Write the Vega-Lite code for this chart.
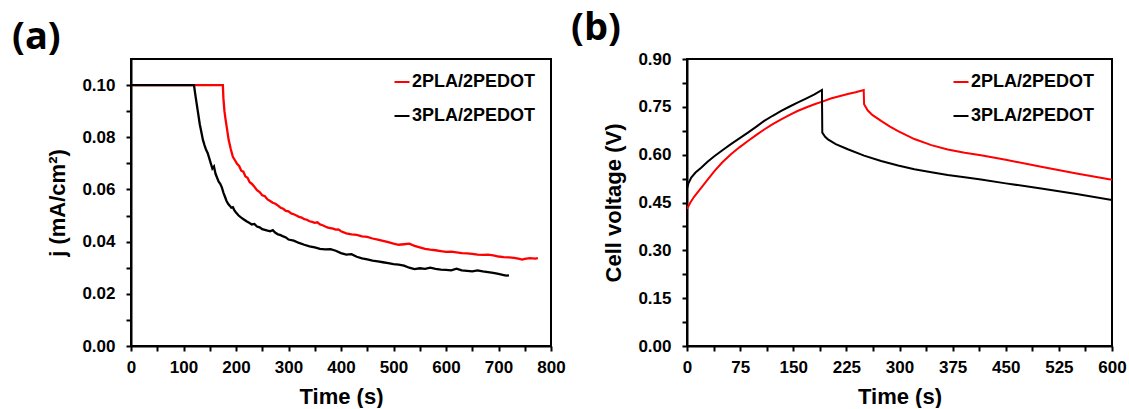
{
  "$schema": "https://vega.github.io/schema/vega-lite/v6.json",
  "background": "white",
  "padding": {"left": 11, "top": 9, "right": 0, "bottom": 0},
  "spacing": 3,
  "config": {
    "view": {"stroke": "black", "strokeWidth": 2},
    "axis": {
      "grid": false, "domainColor": "black", "domainWidth": 2, "tickColor": "black", "tickWidth": 2, "tickSize": 5,
      "labelFont": "Liberation Sans", "labelFontWeight": "bold", "labelFontSize": 17, "labelColor": "black", "labelPadding": 11,
      "titleFont": "Liberation Sans", "titleFontWeight": "bold", "titleFontSize": 22, "titleColor": "black", "titlePadding": 11,
      "labelFlush": false, "labelOverlap": false
    },
    "axisX": {"labelPadding": 8, "titlePadding": 11},
    "axisY": {"titlePadding": 12},
    "legend": {
      "orient": "none", "title": null, "symbolType": "stroke", "symbolSize": 225, "symbolStrokeWidth": 2,
      "labelFont": "Liberation Sans", "labelFontWeight": "bold", "labelFontSize": 18, "labelColor": "black",
      "labelOffset": 1, "rowPadding": 16, "padding": 0, "labelLimit": 300
    },
    "title": {"font": "Open Sans", "fontSize": 38, "fontWeight": "bold", "anchor": "start", "frame": "group", "color": "black", "offset": 2}
  },
  "resolve": {"scale": {"color": "independent"}, "legend": {"color": "independent"}},
  "hconcat": [
    {
      "width": 420, "height": 287,
      "title": {"text": "(a)", "dx": -119},
      "data": {"values": [
        {"s": "2PLA/2PEDOT", "t": 0, "j": 0.1}, {"s": "2PLA/2PEDOT", "t": 175, "j": 0.1},
        {"s": "2PLA/2PEDOT", "t": 176, "j": 0.095}, {"s": "2PLA/2PEDOT", "t": 178, "j": 0.090},
        {"s": "2PLA/2PEDOT", "t": 180, "j": 0.087}, {"s": "2PLA/2PEDOT", "t": 183, "j": 0.083},
        {"s": "2PLA/2PEDOT", "t": 186, "j": 0.079}, {"s": "2PLA/2PEDOT", "t": 190, "j": 0.0755},
        {"s": "2PLA/2PEDOT", "t": 194, "j": 0.0725}, {"s": "2PLA/2PEDOT", "t": 198, "j": 0.0712},
        {"s": "2PLA/2PEDOT", "t": 202, "j": 0.0698}, {"s": "2PLA/2PEDOT", "t": 206, "j": 0.0690},
        {"s": "2PLA/2PEDOT", "t": 210, "j": 0.0672}, {"s": "2PLA/2PEDOT", "t": 214, "j": 0.0668},
        {"s": "2PLA/2PEDOT", "t": 218, "j": 0.0650}, {"s": "2PLA/2PEDOT", "t": 222, "j": 0.0645},
        {"s": "2PLA/2PEDOT", "t": 226, "j": 0.0628}, {"s": "2PLA/2PEDOT", "t": 230, "j": 0.0622},
        {"s": "2PLA/2PEDOT", "t": 235, "j": 0.0610}, {"s": "2PLA/2PEDOT", "t": 240, "j": 0.0597},
        {"s": "2PLA/2PEDOT", "t": 245, "j": 0.0590}, {"s": "2PLA/2PEDOT", "t": 250, "j": 0.0578},
        {"s": "2PLA/2PEDOT", "t": 255, "j": 0.0574}, {"s": "2PLA/2PEDOT", "t": 260, "j": 0.0562},
        {"s": "2PLA/2PEDOT", "t": 265, "j": 0.0556}, {"s": "2PLA/2PEDOT", "t": 270, "j": 0.0549},
        {"s": "2PLA/2PEDOT", "t": 275, "j": 0.0545}, {"s": "2PLA/2PEDOT", "t": 280, "j": 0.0538},
        {"s": "2PLA/2PEDOT", "t": 285, "j": 0.0530}, {"s": "2PLA/2PEDOT", "t": 290, "j": 0.0526},
        {"s": "2PLA/2PEDOT", "t": 295, "j": 0.0518}, {"s": "2PLA/2PEDOT", "t": 300, "j": 0.0516},
        {"s": "2PLA/2PEDOT", "t": 305, "j": 0.0508}, {"s": "2PLA/2PEDOT", "t": 310, "j": 0.0505},
        {"s": "2PLA/2PEDOT", "t": 315, "j": 0.0500}, {"s": "2PLA/2PEDOT", "t": 320, "j": 0.0495},
        {"s": "2PLA/2PEDOT", "t": 325, "j": 0.0492}, {"s": "2PLA/2PEDOT", "t": 330, "j": 0.0486},
        {"s": "2PLA/2PEDOT", "t": 335, "j": 0.0484}, {"s": "2PLA/2PEDOT", "t": 340, "j": 0.0478},
        {"s": "2PLA/2PEDOT", "t": 345, "j": 0.0476}, {"s": "2PLA/2PEDOT", "t": 350, "j": 0.0472},
        {"s": "2PLA/2PEDOT", "t": 355, "j": 0.0474}, {"s": "2PLA/2PEDOT", "t": 360, "j": 0.0466},
        {"s": "2PLA/2PEDOT", "t": 365, "j": 0.0463}, {"s": "2PLA/2PEDOT", "t": 370, "j": 0.0458},
        {"s": "2PLA/2PEDOT", "t": 375, "j": 0.0454}, {"s": "2PLA/2PEDOT", "t": 380, "j": 0.0452},
        {"s": "2PLA/2PEDOT", "t": 385, "j": 0.0450}, {"s": "2PLA/2PEDOT", "t": 390, "j": 0.0446},
        {"s": "2PLA/2PEDOT", "t": 395, "j": 0.0447}, {"s": "2PLA/2PEDOT", "t": 400, "j": 0.0440},
        {"s": "2PLA/2PEDOT", "t": 410, "j": 0.0432}, {"s": "2PLA/2PEDOT", "t": 420, "j": 0.0428},
        {"s": "2PLA/2PEDOT", "t": 430, "j": 0.0426}, {"s": "2PLA/2PEDOT", "t": 440, "j": 0.0420},
        {"s": "2PLA/2PEDOT", "t": 450, "j": 0.0418}, {"s": "2PLA/2PEDOT", "t": 460, "j": 0.0412},
        {"s": "2PLA/2PEDOT", "t": 470, "j": 0.0408}, {"s": "2PLA/2PEDOT", "t": 480, "j": 0.0403},
        {"s": "2PLA/2PEDOT", "t": 490, "j": 0.0398}, {"s": "2PLA/2PEDOT", "t": 500, "j": 0.0392},
        {"s": "2PLA/2PEDOT", "t": 510, "j": 0.0388}, {"s": "2PLA/2PEDOT", "t": 520, "j": 0.0390},
        {"s": "2PLA/2PEDOT", "t": 530, "j": 0.0392}, {"s": "2PLA/2PEDOT", "t": 540, "j": 0.0384},
        {"s": "2PLA/2PEDOT", "t": 550, "j": 0.0378}, {"s": "2PLA/2PEDOT", "t": 560, "j": 0.0372},
        {"s": "2PLA/2PEDOT", "t": 570, "j": 0.0369}, {"s": "2PLA/2PEDOT", "t": 580, "j": 0.0367},
        {"s": "2PLA/2PEDOT", "t": 590, "j": 0.0364}, {"s": "2PLA/2PEDOT", "t": 600, "j": 0.0361},
        {"s": "2PLA/2PEDOT", "t": 610, "j": 0.0362}, {"s": "2PLA/2PEDOT", "t": 620, "j": 0.0359},
        {"s": "2PLA/2PEDOT", "t": 630, "j": 0.0356}, {"s": "2PLA/2PEDOT", "t": 640, "j": 0.0355},
        {"s": "2PLA/2PEDOT", "t": 650, "j": 0.0353}, {"s": "2PLA/2PEDOT", "t": 660, "j": 0.0350},
        {"s": "2PLA/2PEDOT", "t": 670, "j": 0.0349}, {"s": "2PLA/2PEDOT", "t": 680, "j": 0.0350},
        {"s": "2PLA/2PEDOT", "t": 690, "j": 0.0347}, {"s": "2PLA/2PEDOT", "t": 700, "j": 0.0343},
        {"s": "2PLA/2PEDOT", "t": 710, "j": 0.0341}, {"s": "2PLA/2PEDOT", "t": 720, "j": 0.0340},
        {"s": "2PLA/2PEDOT", "t": 730, "j": 0.0338}, {"s": "2PLA/2PEDOT", "t": 740, "j": 0.0334},
        {"s": "2PLA/2PEDOT", "t": 745, "j": 0.0331}, {"s": "2PLA/2PEDOT", "t": 750, "j": 0.0334},
        {"s": "2PLA/2PEDOT", "t": 760, "j": 0.0337}, {"s": "2PLA/2PEDOT", "t": 770, "j": 0.0335},
        {"s": "2PLA/2PEDOT", "t": 775, "j": 0.0337},
        {"s": "3PLA/2PEDOT", "t": 0, "j": 0.1}, {"s": "3PLA/2PEDOT", "t": 120, "j": 0.1},
        {"s": "3PLA/2PEDOT", "t": 122, "j": 0.097}, {"s": "3PLA/2PEDOT", "t": 125, "j": 0.093},
        {"s": "3PLA/2PEDOT", "t": 128, "j": 0.089}, {"s": "3PLA/2PEDOT", "t": 131, "j": 0.085},
        {"s": "3PLA/2PEDOT", "t": 134, "j": 0.082}, {"s": "3PLA/2PEDOT", "t": 137, "j": 0.079},
        {"s": "3PLA/2PEDOT", "t": 140, "j": 0.0770}, {"s": "3PLA/2PEDOT", "t": 143, "j": 0.0752},
        {"s": "3PLA/2PEDOT", "t": 146, "j": 0.0740}, {"s": "3PLA/2PEDOT", "t": 149, "j": 0.0720},
        {"s": "3PLA/2PEDOT", "t": 152, "j": 0.0700}, {"s": "3PLA/2PEDOT", "t": 155, "j": 0.0680},
        {"s": "3PLA/2PEDOT", "t": 158, "j": 0.0688}, {"s": "3PLA/2PEDOT", "t": 161, "j": 0.0660},
        {"s": "3PLA/2PEDOT", "t": 164, "j": 0.0645}, {"s": "3PLA/2PEDOT", "t": 167, "j": 0.0630},
        {"s": "3PLA/2PEDOT", "t": 170, "j": 0.0622}, {"s": "3PLA/2PEDOT", "t": 173, "j": 0.0608},
        {"s": "3PLA/2PEDOT", "t": 176, "j": 0.0588}, {"s": "3PLA/2PEDOT", "t": 179, "j": 0.0572},
        {"s": "3PLA/2PEDOT", "t": 182, "j": 0.0556}, {"s": "3PLA/2PEDOT", "t": 185, "j": 0.0545},
        {"s": "3PLA/2PEDOT", "t": 188, "j": 0.0538}, {"s": "3PLA/2PEDOT", "t": 191, "j": 0.0530},
        {"s": "3PLA/2PEDOT", "t": 194, "j": 0.0532}, {"s": "3PLA/2PEDOT", "t": 197, "j": 0.0520},
        {"s": "3PLA/2PEDOT", "t": 200, "j": 0.0512}, {"s": "3PLA/2PEDOT", "t": 205, "j": 0.0500},
        {"s": "3PLA/2PEDOT", "t": 210, "j": 0.0492}, {"s": "3PLA/2PEDOT", "t": 215, "j": 0.0485},
        {"s": "3PLA/2PEDOT", "t": 220, "j": 0.0478}, {"s": "3PLA/2PEDOT", "t": 225, "j": 0.0472},
        {"s": "3PLA/2PEDOT", "t": 230, "j": 0.0466}, {"s": "3PLA/2PEDOT", "t": 235, "j": 0.0468},
        {"s": "3PLA/2PEDOT", "t": 240, "j": 0.0458}, {"s": "3PLA/2PEDOT", "t": 245, "j": 0.0455},
        {"s": "3PLA/2PEDOT", "t": 250, "j": 0.0448}, {"s": "3PLA/2PEDOT", "t": 255, "j": 0.0445},
        {"s": "3PLA/2PEDOT", "t": 260, "j": 0.0442}, {"s": "3PLA/2PEDOT", "t": 265, "j": 0.0440},
        {"s": "3PLA/2PEDOT", "t": 270, "j": 0.0444}, {"s": "3PLA/2PEDOT", "t": 275, "j": 0.0434},
        {"s": "3PLA/2PEDOT", "t": 280, "j": 0.0428}, {"s": "3PLA/2PEDOT", "t": 285, "j": 0.0425},
        {"s": "3PLA/2PEDOT", "t": 290, "j": 0.0420}, {"s": "3PLA/2PEDOT", "t": 295, "j": 0.0416},
        {"s": "3PLA/2PEDOT", "t": 300, "j": 0.0408}, {"s": "3PLA/2PEDOT", "t": 310, "j": 0.0404},
        {"s": "3PLA/2PEDOT", "t": 320, "j": 0.0395}, {"s": "3PLA/2PEDOT", "t": 330, "j": 0.0388},
        {"s": "3PLA/2PEDOT", "t": 340, "j": 0.0382}, {"s": "3PLA/2PEDOT", "t": 350, "j": 0.0378},
        {"s": "3PLA/2PEDOT", "t": 360, "j": 0.0372}, {"s": "3PLA/2PEDOT", "t": 370, "j": 0.0370},
        {"s": "3PLA/2PEDOT", "t": 380, "j": 0.0371}, {"s": "3PLA/2PEDOT", "t": 390, "j": 0.0365},
        {"s": "3PLA/2PEDOT", "t": 400, "j": 0.0356}, {"s": "3PLA/2PEDOT", "t": 410, "j": 0.0350},
        {"s": "3PLA/2PEDOT", "t": 420, "j": 0.0352}, {"s": "3PLA/2PEDOT", "t": 430, "j": 0.0342},
        {"s": "3PLA/2PEDOT", "t": 440, "j": 0.0336}, {"s": "3PLA/2PEDOT", "t": 450, "j": 0.0332},
        {"s": "3PLA/2PEDOT", "t": 460, "j": 0.0327}, {"s": "3PLA/2PEDOT", "t": 470, "j": 0.0324},
        {"s": "3PLA/2PEDOT", "t": 480, "j": 0.0321}, {"s": "3PLA/2PEDOT", "t": 490, "j": 0.0318},
        {"s": "3PLA/2PEDOT", "t": 500, "j": 0.0314}, {"s": "3PLA/2PEDOT", "t": 510, "j": 0.0312},
        {"s": "3PLA/2PEDOT", "t": 520, "j": 0.0308}, {"s": "3PLA/2PEDOT", "t": 530, "j": 0.0300},
        {"s": "3PLA/2PEDOT", "t": 540, "j": 0.0295}, {"s": "3PLA/2PEDOT", "t": 550, "j": 0.0298},
        {"s": "3PLA/2PEDOT", "t": 560, "j": 0.0296}, {"s": "3PLA/2PEDOT", "t": 570, "j": 0.0300},
        {"s": "3PLA/2PEDOT", "t": 580, "j": 0.0296}, {"s": "3PLA/2PEDOT", "t": 590, "j": 0.0293},
        {"s": "3PLA/2PEDOT", "t": 600, "j": 0.0292}, {"s": "3PLA/2PEDOT", "t": 610, "j": 0.0290},
        {"s": "3PLA/2PEDOT", "t": 620, "j": 0.0296}, {"s": "3PLA/2PEDOT", "t": 630, "j": 0.0290},
        {"s": "3PLA/2PEDOT", "t": 640, "j": 0.0288}, {"s": "3PLA/2PEDOT", "t": 650, "j": 0.0286},
        {"s": "3PLA/2PEDOT", "t": 660, "j": 0.0290}, {"s": "3PLA/2PEDOT", "t": 670, "j": 0.0286},
        {"s": "3PLA/2PEDOT", "t": 680, "j": 0.0283}, {"s": "3PLA/2PEDOT", "t": 690, "j": 0.0280},
        {"s": "3PLA/2PEDOT", "t": 700, "j": 0.0276}, {"s": "3PLA/2PEDOT", "t": 710, "j": 0.0272},
        {"s": "3PLA/2PEDOT", "t": 715, "j": 0.0270}, {"s": "3PLA/2PEDOT", "t": 720, "j": 0.0271}
      ]},
      "mark": {"type": "line", "strokeWidth": 2.3, "clip": true},
      "encoding": {
        "x": {"field": "t", "type": "quantitative", "scale": {"domain": [0, 800], "nice": false, "zero": false},
              "axis": {"title": "Time (s)", "values": [0,50,100,150,200,250,300,350,400,450,500,550,600,650,700,750,800],
                       "labelExpr": "datum.value % 100 == 0 ? datum.label : ''"}},
        "y": {"field": "j", "type": "quantitative", "scale": {"domain": [0, 0.11], "nice": false},
              "axis": {"title": "j (mA/cm²)", "values": [0,0.01,0.02,0.03,0.04,0.05,0.06,0.07,0.08,0.09,0.1],
                       "labelExpr": "round(datum.value*100) % 2 == 0 ? format(datum.value, '.2f') : ''"}},
        "color": {"field": "s", "type": "nominal",
                  "scale": {"domain": ["2PLA/2PEDOT", "3PLA/2PEDOT"], "range": ["#ff0000", "#000000"]},
                  "legend": {"legendX": 262, "legendY": 14}}
      }
    },
    {
      "width": 425, "height": 287,
      "title": {"text": "(b)", "dx": -116},
      "data": {"values": [
        {"s": "2PLA/2PEDOT", "t": 0, "v": 0.430}, {"s": "2PLA/2PEDOT", "t": 5, "v": 0.451},
        {"s": "2PLA/2PEDOT", "t": 10, "v": 0.468}, {"s": "2PLA/2PEDOT", "t": 20, "v": 0.496},
        {"s": "2PLA/2PEDOT", "t": 30, "v": 0.524}, {"s": "2PLA/2PEDOT", "t": 39, "v": 0.549},
        {"s": "2PLA/2PEDOT", "t": 50, "v": 0.576}, {"s": "2PLA/2PEDOT", "t": 62, "v": 0.601},
        {"s": "2PLA/2PEDOT", "t": 74, "v": 0.623}, {"s": "2PLA/2PEDOT", "t": 86, "v": 0.643},
        {"s": "2PLA/2PEDOT", "t": 98, "v": 0.662}, {"s": "2PLA/2PEDOT", "t": 109, "v": 0.679},
        {"s": "2PLA/2PEDOT", "t": 121, "v": 0.696}, {"s": "2PLA/2PEDOT", "t": 133, "v": 0.711},
        {"s": "2PLA/2PEDOT", "t": 145, "v": 0.725}, {"s": "2PLA/2PEDOT", "t": 156, "v": 0.737},
        {"s": "2PLA/2PEDOT", "t": 168, "v": 0.748}, {"s": "2PLA/2PEDOT", "t": 180, "v": 0.758},
        {"s": "2PLA/2PEDOT", "t": 192, "v": 0.767}, {"s": "2PLA/2PEDOT", "t": 203, "v": 0.776},
        {"s": "2PLA/2PEDOT", "t": 215, "v": 0.783}, {"s": "2PLA/2PEDOT", "t": 227, "v": 0.790},
        {"s": "2PLA/2PEDOT", "t": 238, "v": 0.796}, {"s": "2PLA/2PEDOT", "t": 249.5, "v": 0.803},
        {"s": "2PLA/2PEDOT", "t": 250, "v": 0.758}, {"s": "2PLA/2PEDOT", "t": 255, "v": 0.739},
        {"s": "2PLA/2PEDOT", "t": 262, "v": 0.724}, {"s": "2PLA/2PEDOT", "t": 274, "v": 0.706},
        {"s": "2PLA/2PEDOT", "t": 286, "v": 0.689}, {"s": "2PLA/2PEDOT", "t": 298, "v": 0.674},
        {"s": "2PLA/2PEDOT", "t": 321, "v": 0.649}, {"s": "2PLA/2PEDOT", "t": 345, "v": 0.630},
        {"s": "2PLA/2PEDOT", "t": 368, "v": 0.616}, {"s": "2PLA/2PEDOT", "t": 392, "v": 0.606},
        {"s": "2PLA/2PEDOT", "t": 415, "v": 0.598}, {"s": "2PLA/2PEDOT", "t": 450, "v": 0.584},
        {"s": "2PLA/2PEDOT", "t": 500, "v": 0.562}, {"s": "2PLA/2PEDOT", "t": 550, "v": 0.541},
        {"s": "2PLA/2PEDOT", "t": 600, "v": 0.521},
        {"s": "3PLA/2PEDOT", "t": 0, "v": 0.494}, {"s": "3PLA/2PEDOT", "t": 2, "v": 0.510},
        {"s": "3PLA/2PEDOT", "t": 6, "v": 0.528}, {"s": "3PLA/2PEDOT", "t": 12, "v": 0.544},
        {"s": "3PLA/2PEDOT", "t": 20, "v": 0.559}, {"s": "3PLA/2PEDOT", "t": 29, "v": 0.578},
        {"s": "3PLA/2PEDOT", "t": 39, "v": 0.596}, {"s": "3PLA/2PEDOT", "t": 50, "v": 0.614},
        {"s": "3PLA/2PEDOT", "t": 62, "v": 0.633}, {"s": "3PLA/2PEDOT", "t": 74, "v": 0.651},
        {"s": "3PLA/2PEDOT", "t": 86, "v": 0.669}, {"s": "3PLA/2PEDOT", "t": 98, "v": 0.688},
        {"s": "3PLA/2PEDOT", "t": 109, "v": 0.706}, {"s": "3PLA/2PEDOT", "t": 121, "v": 0.722},
        {"s": "3PLA/2PEDOT", "t": 133, "v": 0.737}, {"s": "3PLA/2PEDOT", "t": 145, "v": 0.751},
        {"s": "3PLA/2PEDOT", "t": 156, "v": 0.763}, {"s": "3PLA/2PEDOT", "t": 168, "v": 0.776},
        {"s": "3PLA/2PEDOT", "t": 180, "v": 0.789}, {"s": "3PLA/2PEDOT", "t": 190.5, "v": 0.803},
        {"s": "3PLA/2PEDOT", "t": 191, "v": 0.669}, {"s": "3PLA/2PEDOT", "t": 195, "v": 0.656},
        {"s": "3PLA/2PEDOT", "t": 199, "v": 0.648}, {"s": "3PLA/2PEDOT", "t": 210, "v": 0.633},
        {"s": "3PLA/2PEDOT", "t": 227, "v": 0.617}, {"s": "3PLA/2PEDOT", "t": 250, "v": 0.597},
        {"s": "3PLA/2PEDOT", "t": 274, "v": 0.580}, {"s": "3PLA/2PEDOT", "t": 298, "v": 0.566},
        {"s": "3PLA/2PEDOT", "t": 321, "v": 0.554}, {"s": "3PLA/2PEDOT", "t": 345, "v": 0.545},
        {"s": "3PLA/2PEDOT", "t": 368, "v": 0.536}, {"s": "3PLA/2PEDOT", "t": 392, "v": 0.529},
        {"s": "3PLA/2PEDOT", "t": 415, "v": 0.522}, {"s": "3PLA/2PEDOT", "t": 450, "v": 0.510},
        {"s": "3PLA/2PEDOT", "t": 500, "v": 0.494}, {"s": "3PLA/2PEDOT", "t": 550, "v": 0.477},
        {"s": "3PLA/2PEDOT", "t": 600, "v": 0.458}
      ]},
      "mark": {"type": "line", "strokeWidth": 2, "clip": true},
      "encoding": {
        "x": {"field": "t", "type": "quantitative", "scale": {"domain": [0, 600], "nice": false, "zero": false},
              "axis": {"title": "Time (s)", "values": [0,37.5,75,112.5,150,187.5,225,262.5,300,337.5,375,412.5,450,487.5,525,562.5,600],
                       "labelExpr": "datum.value % 75 == 0 ? datum.label : ''"}},
        "y": {"field": "v", "type": "quantitative", "scale": {"domain": [0, 0.9], "nice": false},
              "axis": {"title": "Cell voltage (V)", "values": [0,0.075,0.15,0.225,0.3,0.375,0.45,0.525,0.6,0.675,0.75,0.825,0.9],
                       "labelExpr": "round(datum.value*1000) % 150 == 0 ? format(datum.value, '.2f') : ''"}},
        "color": {"field": "s", "type": "nominal",
                  "scale": {"domain": ["2PLA/2PEDOT", "3PLA/2PEDOT"], "range": ["#ff0000", "#000000"]},
                  "legend": {"legendX": 265, "legendY": 14}}
      }
    }
  ]
}
